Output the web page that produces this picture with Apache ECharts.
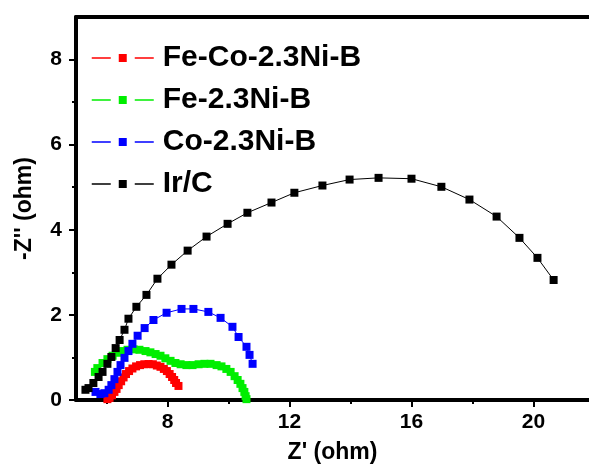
<!DOCTYPE html>
<html>
<head>
<meta charset="utf-8">
<script src="https://cdn.jsdelivr.net/npm/echarts@6/dist/echarts.min.js"></script>
<style>html,body{margin:0;padding:0;background:#fff;}#c{width:589px;height:464px;}</style>
</head>
<body>
<div id="c"></div>
<script>
// ---- data ----
const seriesNames = ['Fe-Co-2.3Ni-B', 'Fe-2.3Ni-B', 'Co-2.3Ni-B', 'Ir/C'];
const seriesColors = ['#ff0000', '#00ee00', '#0000ff', '#000000'];

const feCoNiB_x = [6.03,6.10,6.18,6.26,6.33,6.40,6.48,6.56,6.64,6.74,6.85,6.97,7.10,7.24,7.38,7.52,7.65,7.77,7.88,7.98,8.07,8.15,8.22,8.28,8.36];
const feCoNiB_y = [0.02,0.05,0.11,0.19,0.26,0.35,0.44,0.53,0.61,0.68,0.74,0.79,0.82,0.84,0.845,0.84,0.81,0.78,0.73,0.68,0.61,0.54,0.47,0.40,0.33];

const feNiB_x = [5.62,5.70,5.87,6.03,6.20,6.36,6.52,6.69,6.89,7.08,7.28,7.44,7.61,7.77,7.93,8.10,8.26,8.43,8.62,8.82,9.02,9.21,9.41,9.61,9.77,9.93,10.07,10.20,10.30,10.39,10.46,10.52,10.56,10.59];
const feNiB_y = [0.66,0.75,0.87,0.96,1.04,1.11,1.15,1.18,1.19,1.18,1.15,1.12,1.08,1.04,0.98,0.92,0.87,0.84,0.82,0.82,0.84,0.85,0.85,0.82,0.79,0.73,0.66,0.56,0.47,0.38,0.28,0.19,0.09,0.02];

const coNiB_x = [5.64,5.80,5.93,6.07,6.16,6.26,6.36,6.46,6.59,6.72,6.85,7.02,7.25,7.54,7.97,8.46,8.85,9.34,9.74,10.13,10.33,10.59,10.69,10.79];
const coNiB_y = [0.19,0.14,0.16,0.24,0.35,0.49,0.66,0.82,0.99,1.15,1.32,1.51,1.69,1.88,2.05,2.14,2.14,2.07,1.93,1.72,1.48,1.25,1.06,0.85];

const irC_x = [5.31,5.41,5.57,5.74,5.87,6.03,6.16,6.30,6.43,6.59,6.72,6.98,7.31,7.67,8.13,8.66,9.28,9.97,10.62,11.41,12.16,13.08,13.97,14.92,16.00,16.98,17.90,18.79,19.54,20.13,20.66];
const irC_y = [0.24,0.28,0.40,0.54,0.66,0.85,1.01,1.22,1.41,1.65,1.91,2.19,2.47,2.85,3.18,3.51,3.84,4.14,4.40,4.64,4.87,5.04,5.18,5.22,5.20,5.01,4.71,4.31,3.81,3.34,2.82];

const xMajorTicks = [8, 12, 16, 20];
const xMinorTicks = [6, 10, 14, 18];
const yMajorTicks = [0, 2, 4, 6, 8];
const yMinorTicks = [1, 3, 5, 7];

const xTitle = "Z' (ohm)";
const yTitle = "-Z'' (ohm)";

// ---- chart ----
const allX = [feCoNiB_x, feNiB_x, coNiB_x, irC_x];
const allY = [feCoNiB_y, feNiB_y, coNiB_y, irC_y];
const zip = (xs, ys) => xs.map((x, i) => [x, ys[i]]);

const FONT = '"Liberation Sans", Arial, sans-serif';
const chart = echarts.init(document.getElementById('c'), null, {renderer: 'canvas'});

const series = seriesNames.map((name, i) => ({
  name,
  type: 'line',
  xAxisIndex: 0,
  yAxisIndex: 0,
  data: zip(allX[i], allY[i]),
  symbol: 'rect',
  symbolSize: 8,
  showSymbol: true,
  animation: false,
  clip: false,
  itemStyle: {color: seriesColors[i]},
  lineStyle: {color: seriesColors[i], width: 1, type: 'solid'}
}));

const X_MIN = 5, X_MAX = 21.82;

chart.setOption({
  backgroundColor: '#fff',
  animation: false,
  grid: {
    left: 76, top: 17, bottom: 64, right: 0,
    show: false, containLabel: false, outerBoundsMode: 'none'
  },
  legend: {
    orient: 'vertical',
    left: 91, top: 43, padding: 0,
    itemWidth: 62, itemHeight: 10, itemGap: 12,
    data: seriesNames,
    textStyle: {fontFamily: FONT, fontWeight: 'bold', fontSize: 30, color: '#000', padding: [0,0,0,4]},
    lineStyle: {width: 1.5, type: [19, 24]}
  },
  xAxis: [{
    type: 'value', min: X_MIN, max: X_MAX, position: 'bottom',
    name: xTitle, nameLocation: 'middle', nameGap: 41,
    nameTextStyle: {fontFamily: FONT, fontWeight: 'bold', fontSize: 23, color: '#000'},
    axisLine: {show: true, onZero: false, lineStyle: {color: '#000', width: 4}},
    axisTick: {show: true, inside: false, length: 7, customValues: xMajorTicks, lineStyle: {color: '#000', width: 2}},
    axisLabel: {customValues: xMajorTicks, margin: 12, fontFamily: FONT, fontWeight: 'bold', fontSize: 21, color: '#000'},
    splitLine: {show: false}
  }, {
    type: 'value', min: X_MIN, max: X_MAX, position: 'bottom',
    axisLine: {show: false, onZero: false},
    axisTick: {show: true, length: 4, customValues: xMinorTicks, lineStyle: {color: '#000', width: 2}},
    axisLabel: {show: false},
    splitLine: {show: false}
  }, {
    type: 'value', min: X_MIN, max: X_MAX, position: 'top',
    axisLine: {show: true, onZero: false, lineStyle: {color: '#000', width: 4}},
    axisTick: {show: false},
    axisLabel: {show: false},
    splitLine: {show: false}
  }],
  yAxis: [{
    type: 'value', min: 0, max: 9, position: 'left',
    name: yTitle, nameLocation: 'middle', nameGap: 40, nameRotate: 90,
    nameTextStyle: {fontFamily: FONT, fontWeight: 'bold', fontSize: 23, color: '#000'},
    axisLine: {show: true, onZero: false, lineStyle: {color: '#000', width: 4}},
    axisTick: {show: true, length: 7, customValues: yMajorTicks, lineStyle: {color: '#000', width: 2}},
    axisLabel: {customValues: yMajorTicks, margin: 14, fontFamily: FONT, fontWeight: 'bold', fontSize: 21, color: '#000'},
    splitLine: {show: false}
  }, {
    type: 'value', min: 0, max: 9, position: 'left',
    axisLine: {show: false, onZero: false},
    axisTick: {show: true, length: 4, customValues: yMinorTicks, lineStyle: {color: '#000', width: 2}},
    axisLabel: {show: false},
    splitLine: {show: false}
  }],
  series
});
</script>
</body>
</html>
